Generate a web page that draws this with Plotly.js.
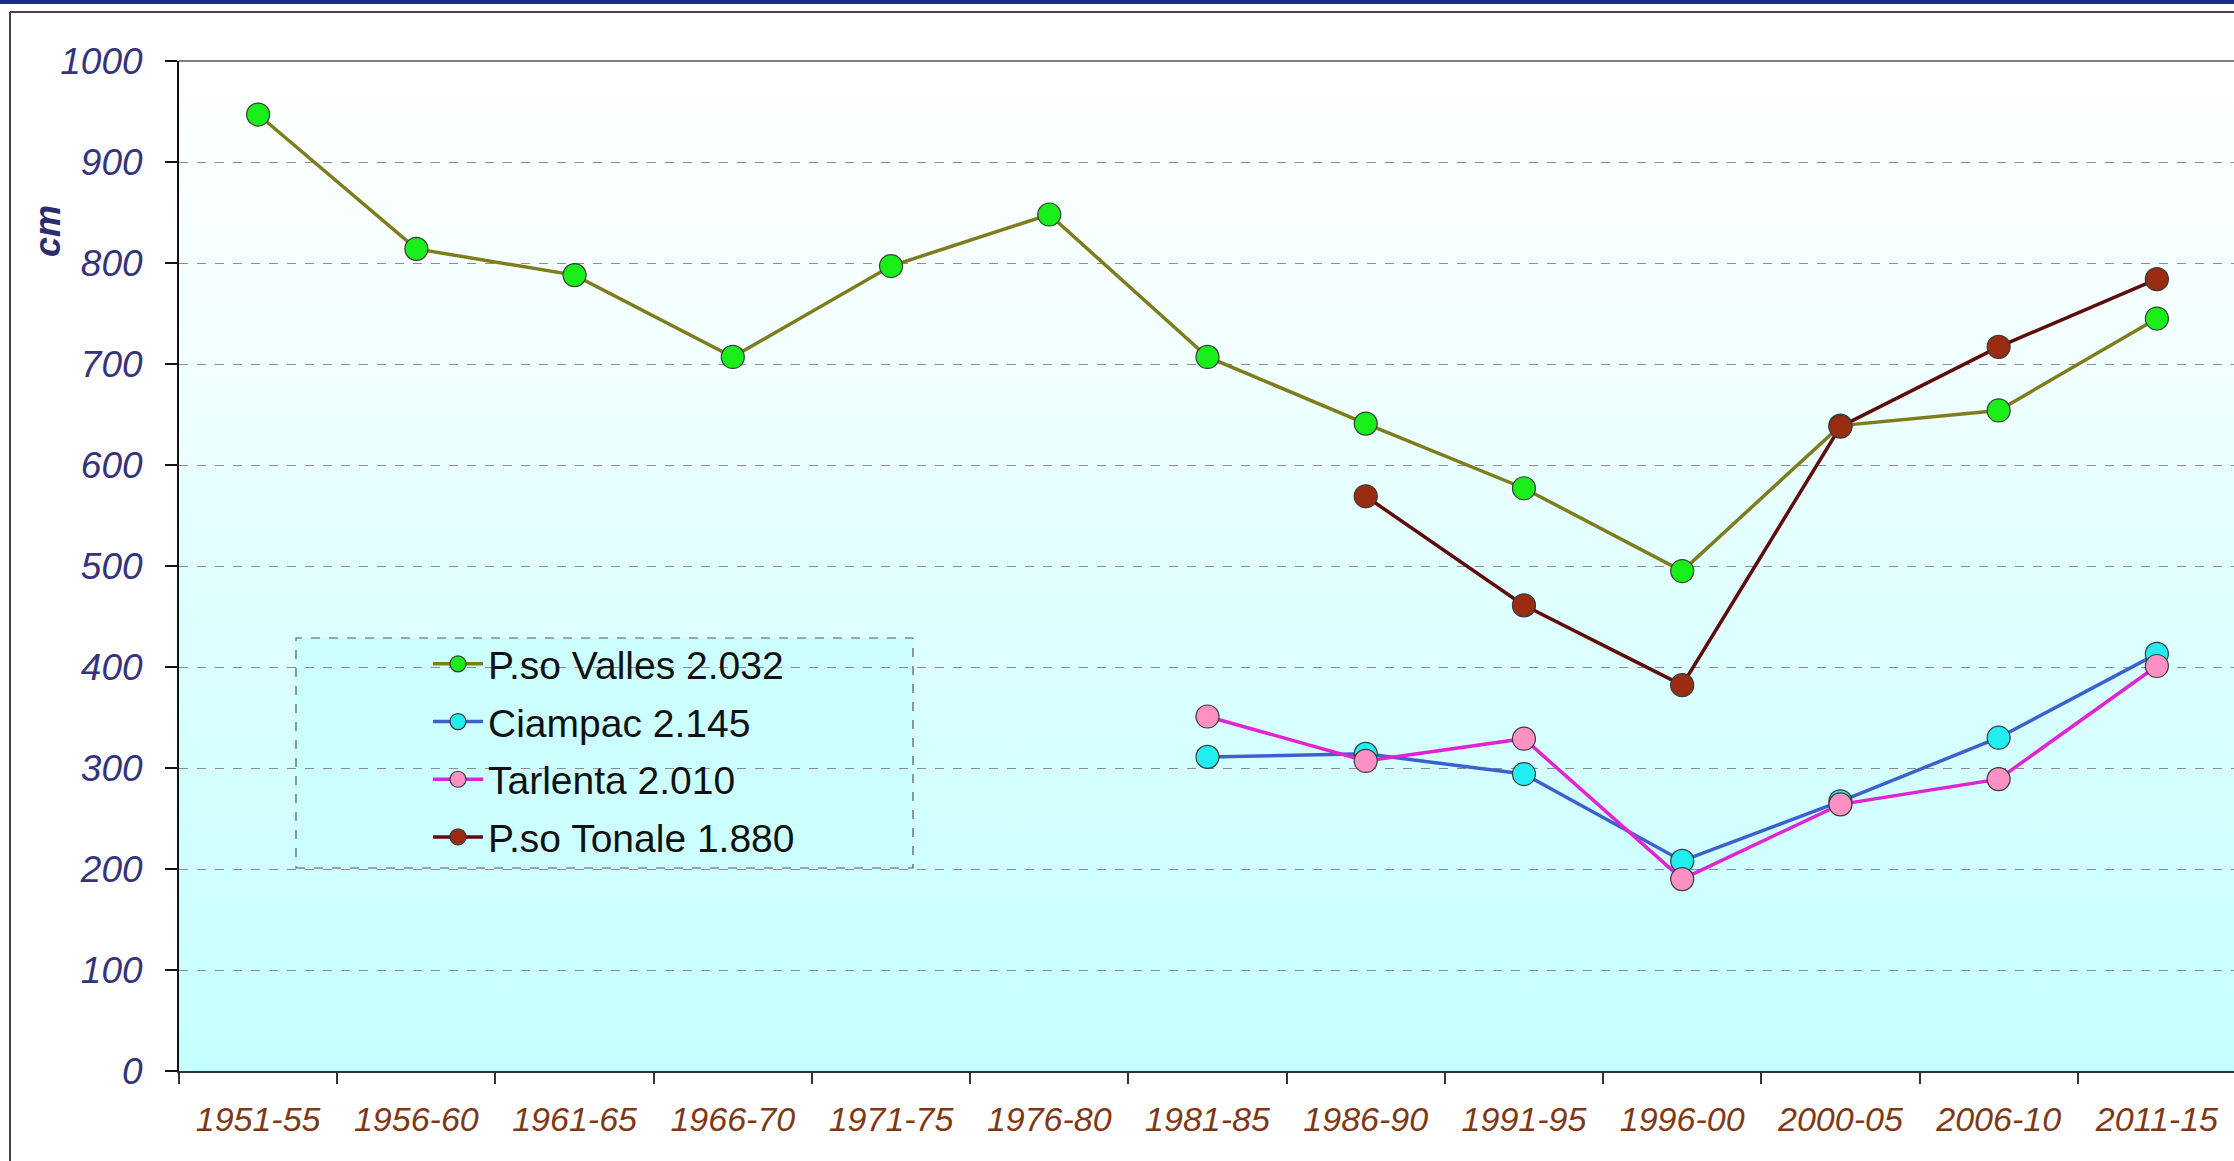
<!DOCTYPE html>
<html>
<head>
<meta charset="utf-8">
<script src="https://cdn.plot.ly/plotly-3.0.1.min.js"></script>
<style>
  html, body { margin:0; padding:0; background:#ffffff; overflow:hidden; }
  #wrap { position:relative; width:2234px; height:1161px; }
  #bg { position:absolute; left:179px; top:61px; width:2055px; height:1010px;
        background:linear-gradient(to bottom, #ffffff 0%, #f4ffff 25%, #e2ffff 50%, #d2ffff 75%, #c6ffff 100%); }
  #chart { position:absolute; left:0; top:0; width:2234px; height:1161px; }
</style>
</head>
<body>
<div id="wrap"><div id="bg"></div><div id="chart"></div></div>
<script>
// ---- data ----
const categories = ['1951-55','1956-60','1961-65','1966-70','1971-75','1976-80','1981-85','1986-90','1991-95','1996-00','2000-05','2006-10','2011-15'];
const seriesNames = ['P.so Valles 2.032','Ciampac 2.145','Tarlenta 2.010','P.so Tonale 1.880'];
const valles   = [947, 814, 788, 707, 797, 848, 707, 641, 577, 495, 639, 654, 745];
const ciampac  = [null, null, null, null, null, null, 311, 314, 294, 208, 267, 330, 413];
const tarlenta = [null, null, null, null, null, null, 351, 307, 329, 190, 264, 289, 401];
const tonale   = [null, null, null, null, null, null, null, 569, 461, 382, 638, 717, 784];
const yTicks = [0,100,200,300,400,500,600,700,800,900,1000];

// ---- pixel helpers for decoration placement ----
const L = 179, T = 61, W = 2055, H = 1010, B = T + H;
const px = x => (x - L) / W;
const py = y => (B - y) / H;

const FONT = 'Arial, "Liberation Sans", sans-serif';

function mk(name, y, lineColor, fill, group) {
  return {
    type: 'scatter', mode: 'lines+markers', name: name, x: categories, y: y,
    legendgroup: group, connectgaps: false,
    line: { color: lineColor, width: 3.5 },
    marker: { symbol: 'circle', size: 23, color: fill, line: { color: '#3a3a3a', width: 1.2 } },
    hoverinfo: 'skip'
  };
}

const data = [
  mk(seriesNames[0], valles,   '#7d7d1e', '#1aee1a', 'g1'),
  mk(seriesNames[1], ciampac,  '#3b62cc', '#22eef0', 'g2'),
  mk(seriesNames[2], tarlenta, '#e024d4', '#ff90c4', 'g3'),
  mk(seriesNames[3], tonale,   '#5e0c0c', '#9a2c12', 'g4')
];

const layout = {
  width: 2234, height: 1161,
  margin: { l: L, r: 0, t: T, b: 1161 - B, pad: 0 },
  paper_bgcolor: 'rgba(0,0,0,0)',
  plot_bgcolor: 'rgba(0,0,0,0)',
  font: { family: FONT },
  showlegend: true,
  legend: {
    x: px(428), y: py(632), xanchor: 'left', yanchor: 'top',
    bgcolor: 'rgba(0,0,0,0)', borderwidth: 0,
    font: { family: FONT, size: 39, color: '#111111' },
    itemwidth: 50, tracegroupgap: 4, traceorder: 'grouped', itemsizing: 'trace',
    itemclick: false, itemdoubleclick: false
  },
  xaxis: {
    type: 'category', categoryorder: 'array', categoryarray: categories,
    range: [-0.5, 12.5 - 2 / 158.25],
    showgrid: false, zeroline: false,
    showline: true, linecolor: '#333333', linewidth: 2,
    ticks: 'outside', tickson: 'boundaries', ticklen: 11, tickwidth: 2, tickcolor: '#333333',
    tickfont: { family: FONT, size: 34, style: 'italic', color: '#7e3815' },
    ticklabelstandoff: 17,
    fixedrange: true
  },
  yaxis: {
    range: [0, 1000], tickvals: yTicks, ticktext: yTicks.map(String),
    showgrid: true, gridcolor: '#8c8c8c', gridwidth: 1, griddash: 'dash',
    zeroline: false,
    showline: true, linecolor: '#111111', linewidth: 2,
    ticks: 'outside', ticklen: 12, tickwidth: 2, tickcolor: '#111111',
    tickfont: { family: FONT, size: 37, style: 'italic', color: '#34347a' },
    ticklabelstandoff: 15,
    fixedrange: true
  },
  annotations: [{
    text: 'cm', xref: 'paper', yref: 'paper', x: px(47), y: py(231),
    xanchor: 'center', yanchor: 'middle', textangle: -90, showarrow: false,
    font: { family: FONT, size: 36, weight: 'bold', style: 'italic', color: '#2c2c6e' }
  }],
  shapes: [
    // blue top band
    { type: 'rect', xref: 'paper', yref: 'paper', x0: px(0), x1: px(2234), y0: py(4), y1: py(0),
      fillcolor: '#1b2d8c', line: { width: 0 }, layer: 'above' },
    // outer chart frame (left + top)
    { type: 'line', xref: 'paper', yref: 'paper', x0: px(10), x1: px(10), y0: py(1161), y1: py(12),
      line: { color: '#444444', width: 2 }, layer: 'above' },
    { type: 'line', xref: 'paper', yref: 'paper', x0: px(10), x1: px(2234), y0: py(12), y1: py(12),
      line: { color: '#444444', width: 2 }, layer: 'above' },
    // top border of plot area
    { type: 'line', xref: 'paper', yref: 'paper', x0: 0, x1: 1, y0: 1, y1: 1,
      line: { color: '#808080', width: 2 }, layer: 'above' },
    // legend box (dashed)
    { type: 'rect', xref: 'paper', yref: 'paper', x0: px(296), x1: px(913), y0: py(868), y1: py(638),
      fillcolor: '#ccffff', line: { color: '#555555', width: 1.2, dash: 'dash' }, layer: 'between' }
  ]
};

Plotly.newPlot('chart', data, layout, { displayModeBar: false, staticPlot: false, responsive: false });
</script>
</body>
</html>
